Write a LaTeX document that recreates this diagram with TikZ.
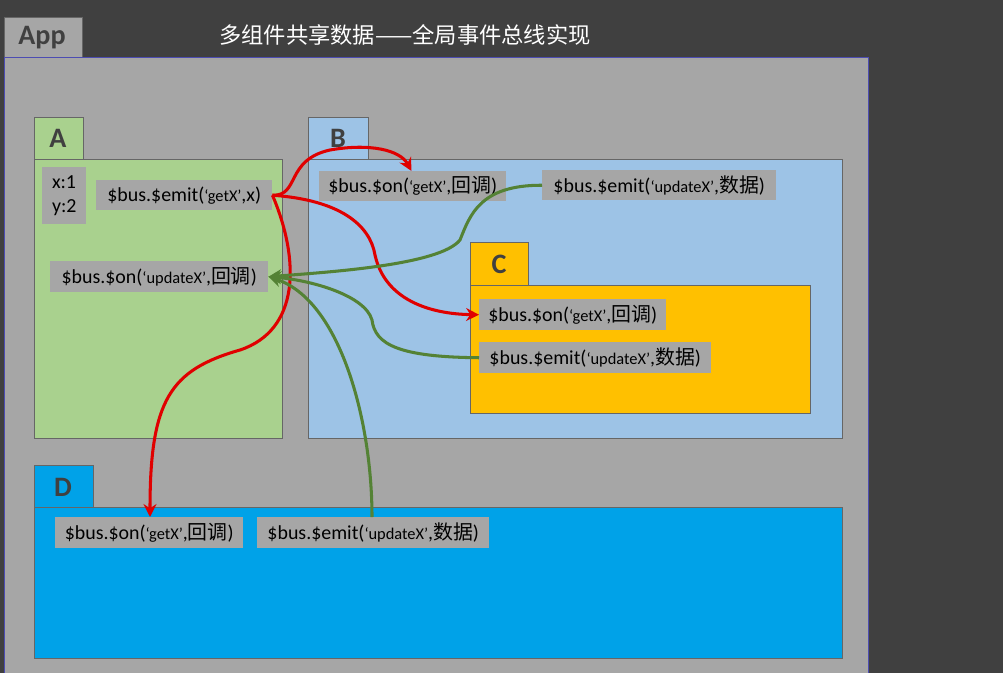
\documentclass[tikz,border=0pt]{standalone}
\usepackage{fontspec}
\setmainfont{Carlito}
\newfontfamily\cjk{Noto Sans CJK SC}
\usetikzlibrary{arrows.meta}
\definecolor{dark}{HTML}{404040}
\definecolor{appgray}{HTML}{A6A6A6}
\definecolor{agreen}{HTML}{A9D18E}
\definecolor{bblue}{HTML}{9DC3E6}
\definecolor{corange}{HTML}{FFC000}
\definecolor{dblue}{HTML}{00A2E8}
\definecolor{ared}{HTML}{E00000}
\definecolor{agreen2}{HTML}{548235}
\tikzset{
  box/.style={draw=gray!80!black, line width=0.8pt},
  tabtxt/.style={font=\bfseries\fontsize{24}{26}\selectfont, text=dark},
  lab/.style={fill=appgray, inner sep=0pt, anchor=north west, font=\fontsize{17}{20}\selectfont},
  redarr/.style={ared, line width=2.6pt, -{Stealth[length=11pt,width=11pt]}},
  grnarr/.style={agreen2, line width=2.6pt, -{Stealth[length=11pt,width=11pt]}}
}
\newcommand{\qs}[1]{{\fontsize{14}{16}\selectfont ‘#1’}}
\begin{document}
\begin{tikzpicture}[x=0.03cm, y=-0.03cm]
\fill[dark] (0,0) rectangle (1003,673);
\useasboundingbox (0,0) rectangle (1003,673);

% App
\draw[box, fill=appgray] (4,17) rectangle (82,57);
\node[tabtxt, text=dark] (app) at (42,38) {App};
\draw[draw=gray!60!blue, fill=appgray] (4,57) rectangle (868,673);
\node[text=white, font=\cjk\fontsize{19}{21}\selectfont] (title) at (405,35) {多组件共享数据——全局事件总线实现};

% A
\draw[box, fill=agreen] (34,117) rectangle (83,159);
\node[tabtxt] (tA) at (58,138) {A};
\draw[box, fill=agreen] (34,159) rectangle (282,438);

% B
\draw[box, fill=bblue] (308,117) rectangle (368,159);
\node[tabtxt] (tB) at (338,138) {B};
\draw[box, fill=bblue] (308,159) rectangle (842,438);

% C
\draw[box, fill=corange] (470,242) rectangle (528,285);
\node[tabtxt] (tC) at (499,264) {C};
\draw[box, fill=corange] (470,285) rectangle (810,413);

% D
\draw[box, fill=dblue] (34,465) rectangle (93,507);
\node[tabtxt] (tD) at (63,487) {D};
\draw[box, fill=dblue] (34,507) rectangle (842,658);

% labels
\node[lab, minimum width=44*0.03cm, minimum height=57*0.03cm, align=left] (xy) at (42,167) {x:1\\y:2};
\node[lab, minimum width=176*0.03cm, minimum height=30*0.03cm] (emitA) at (96,180) {\$bus.\$emit(\qs{getX},x)};
\node[lab, minimum width=218*0.03cm, minimum height=31*0.03cm] (onA) at (50,261) {\$bus.\$on(\qs{updateX},{\cjk 回调})};
\node[lab, minimum width=187*0.03cm, minimum height=30*0.03cm] (onB) at (319,171) {\$bus.\$on(\qs{getX},{\cjk 回调})};
\node[lab, minimum width=234*0.03cm, minimum height=30*0.03cm] (emitB) at (542,170) {\$bus.\$emit(\qs{updateX},{\cjk 数据})};
\node[lab, minimum width=187*0.03cm, minimum height=31*0.03cm] (onC) at (479,299) {\$bus.\$on(\qs{getX},{\cjk 回调})};
\node[lab, minimum width=232*0.03cm, minimum height=31*0.03cm] (emitC) at (479,342) {\$bus.\$emit(\qs{updateX},{\cjk 数据})};
\node[lab, minimum width=188*0.03cm, minimum height=31*0.03cm] (onD) at (55,517) {\$bus.\$on(\qs{getX},{\cjk 回调})};
\node[lab, minimum width=232*0.03cm, minimum height=31*0.03cm] (emitD) at (257,517) {\$bus.\$emit(\qs{updateX},{\cjk 数据})};

% red: getX
\draw[redarr] (emitA.east) .. controls (300,196) and (285,160) .. (330,150)
  .. controls (370,143) and (400,150) .. ([xshift=-95*0.03cm]onB.north east);
\draw[redarr] (emitA.east) .. controls (340,200) and (370,225) .. (375,255)
  .. controls (385,300) and (430,314) .. (onC.west);
\draw[redarr] (emitA.east) .. controls (300,260) and (300,330) .. (240,350)
  .. controls (170,370) and (150,400) .. ([xshift=95*0.03cm]onD.north west);

% green: updateX
\draw[grnarr] (emitB.west) .. controls (480,185) and (470,215) .. (460,240)
  .. controls (440,265) and (330,272) .. (onA.east);
\draw[grnarr] (emitC.west) .. controls (400,357) and (375,345) .. (372,320)
  .. controls (365,295) and (310,280) .. (onA.east);
\draw[grnarr] ([xshift=115*0.03cm]emitD.north west) .. controls (372,420) and (340,300) .. (onA.east);
\end{tikzpicture}
\end{document}
